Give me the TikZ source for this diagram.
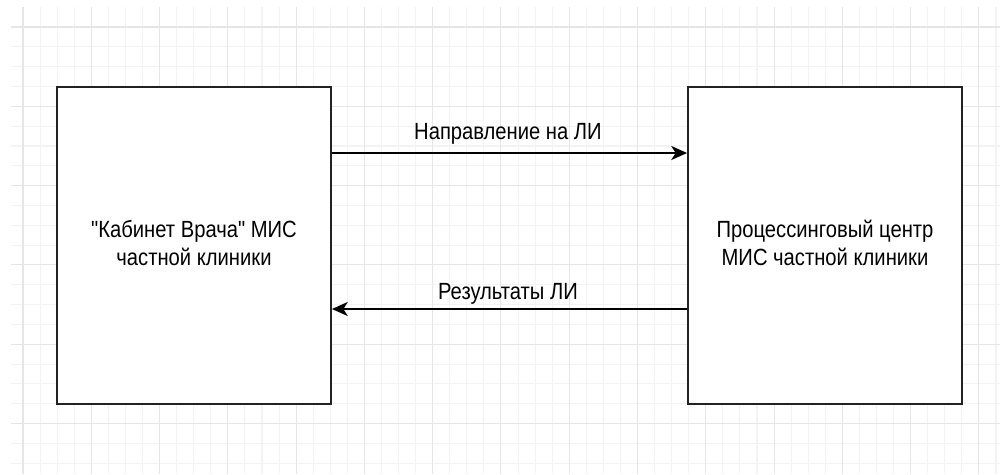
\documentclass[tikz,border=0pt]{standalone}
\usepackage{fontspec}
\setmainfont{Liberation Sans}[Ligatures=TeXOff]
\usepackage{graphicx}
\usetikzlibrary{arrows.meta,calc}
\definecolor{minorgrid}{HTML}{F3F3F3}
\definecolor{majorgrid}{HTML}{E6E6E6}
\definecolor{boxline}{HTML}{222222}
\newcommand{\stretchtext}[1]{\scalebox{1}[1.16]{\begin{tabular}{@{}c@{}}#1\end{tabular}}}
\begin{document}
\begin{tikzpicture}[x=0.02cm,y=-0.02cm,
  minorline/.style={draw=minorgrid,line width=0.6pt},
  majorline/.style={draw=majorgrid,line width=0.6pt},
  box/.style={draw=boxline,line width=1.1pt,fill=white,minimum width=5.48cm,minimum height=6.34cm,inner sep=0pt,align=center,font=\fontsize{11.5}{13.8}\selectfont},
  lbl/.style={font=\fontsize{11.5}{13.8}\selectfont,inner sep=0pt},
  arr/.style={line width=0.9pt,-{Stealth[length=9pt,width=8pt,inset=2.5pt]}}]
\useasboundingbox (0,0) rectangle (1000,474);
\fill[white] (0,0) rectangle (1000,474);
% grid
\foreach \i in {0,...,57} {\draw[minorline] (23+17.07*\i,7) -- (23+17.07*\i,474);}
\foreach \i in {0,...,22} {\draw[minorline] (11,27+19.83*\i) -- (1000,27+19.83*\i);}
\foreach \i in {0,...,14} {\draw[majorline] (23+68.28*\i,7) -- (23+68.28*\i,474);}
\foreach \i in {0,...,5} {\draw[majorline] (11,27+79.32*\i) -- (1000,27+79.32*\i);}
% boxes
\node[box] (L) at (194,245.5) {\stretchtext{"Кабинет Врача" МИС\\частной клиники}};
\node[box] (R) at (825,245.5) {\stretchtext{Процессинговый центр\\МИС частной клиники}};
% arrows
\draw[arr] (L.east) ++(0,-92.5) coordinate (a1s) -- (a1s -| R.west) coordinate (a1e);
\draw[arr] (R.west) ++(0,63.5) coordinate (a2s) -- (a2s -| L.east) coordinate (a2e);
% labels
\node[lbl] (t1) at (508,134) {\stretchtext{Направление на ЛИ}};
\node[lbl] (t2) at (508,294) {\stretchtext{Результаты ЛИ}};
\end{tikzpicture}
\end{document}
